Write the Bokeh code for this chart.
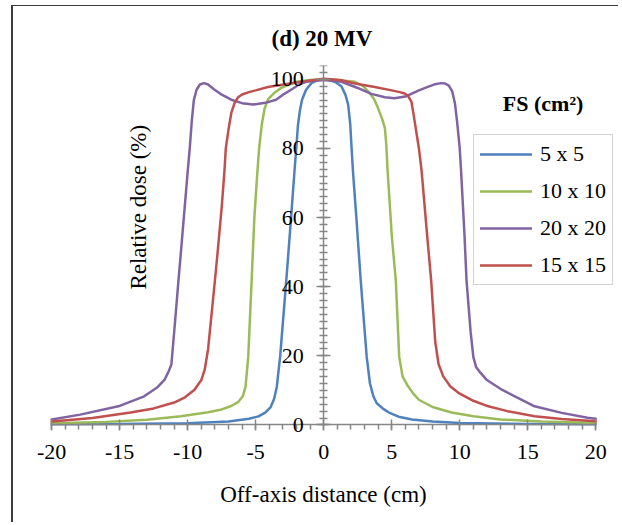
import math
from bokeh.plotting import figure
from bokeh.models import Range1d, SingleIntervalTicker, Legend, LegendItem, Label, PrintfTickFormatter
from bokeh.embed import file_html
from bokeh.resources import INLINE

# ---- data ----
series_names = ["5 x 5", "10 x 10", "20 x 20", "15 x 15"]

x_5 = [-20, -15, -10, -7, -5.5, -4.8, -4.3, -3.9, -3.65, -3.45, -3.2, -2.75, -2.4, -2.15, -2.0, -1.9, -1.75,
       -1.6, -1.3, -0.9, -0.5, 0, 0.5, 0.9, 1.3, 1.6, 1.8, 1.95, 2.05, 2.15, 2.4, 2.72, 3.16, 3.4, 3.65, 3.9,
       4.4, 4.8, 5.5, 6.5, 8, 10, 15, 20]
y_5 = [0.2, 0.3, 0.5, 1.0, 1.8, 2.5, 3.6, 5.2, 7.5, 11, 20, 42, 60, 73.4, 81, 86.5, 91,
       94, 97, 98.9, 99.7, 100, 99.7, 99.1, 98.0, 95.5, 92.6, 87, 80, 73.4, 60, 41.8, 19.7, 12, 8.3, 6.3,
       4.6, 3.6, 2.4, 1.6, 1.0, 0.6, 0.3, 0.2]

x_10 = [-20, -16, -13, -10.5, -8.5, -7.5, -6.8, -6.3, -5.95, -5.75, -5.55, -5.3, -5.1, -4.9, -4.75, -4.55,
        -4.35, -4.1, -3.6, -3.1, -2.0, -1.0, 0, 1.0, 2.3, 2.9, 3.3, 3.7, 4.0, 4.3, 4.5, 4.6, 4.7, 5.0, 5.3, 5.55,
        5.8, 6.2, 6.6, 7.0, 8.0, 9.4, 11, 13, 16, 20]
y_10 = [0.5, 0.9, 1.5, 2.5, 3.7, 4.5, 5.5, 6.6, 8.3, 11, 19.7, 41.8, 60, 72, 80, 87,
        91.5, 94.2, 96.2, 97.6, 99.3, 99.8, 100, 99.8, 99.3, 98, 96.4, 94.3, 91.6, 88.5, 85.9, 81, 73.4, 55, 41.8,
        19.7, 14, 11.2, 9.0, 7.3, 5.2, 3.6, 2.5, 1.6, 1.0, 0.6]

x_20 = [-20, -17.9, -15.1, -13.2, -12.2, -11.7, -11.4, -11.2, -10.95, -10.68, -10.5, -10.0, -9.85, -9.7,
        -9.55, -9.35, -9.1, -8.8, -8.5, -8.1, -7.6, -6.8, -6.0, -5.2, -4.3, -3.5, -2.9, -2.4, -1.8, -1.3, 0,
        1.3, 2.5, 3.5, 4.5, 5.2, 6.0, 7.0, 7.7, 8.2, 8.6, 8.9, 9.2, 9.45, 9.65, 9.8, 10.0, 10.1, 10.35, 10.5,
        10.8, 11.0, 11.2, 11.5, 12.0, 13.1, 15.5, 17.5, 19.4, 20]
y_20 = [1.6, 3.0, 5.4, 8.3, 11, 13.1, 15.5, 17.5, 29, 41.8, 50, 73.4, 80, 88,
        94, 97, 98.5, 98.9, 98.5, 97.2, 95.8, 94.1, 93.1, 92.7, 93.2, 94.1, 95.8, 97, 98.5, 99.3, 99.8,
        99.3, 97.5, 95.8, 94.8, 94.5, 95.0, 96.8, 97.9, 98.6, 98.9, 98.8, 98.2, 96.5, 93, 88, 80, 73.4, 55, 41.8,
        27, 19.7, 16.8, 15.2, 13, 10.2, 5.4, 3.5, 2.1, 1.8]

x_15 = [-20, -17, -14.2, -12.5, -11, -10.2, -9.5, -9.0, -8.75, -8.5, -8.0, -7.8, -7.5, -7.3, -7.2, -7.0,
        -6.8, -6.55, -6.3, -6.0, -5.5, -5.0, -4.1, -2.5, -1.2, 0, 1.2, 2.3, 3.75, 5.0, 5.6, 5.95, 6.2, 6.45,
        6.6, 7.0, 7.2, 7.6, 7.9, 8.2, 8.45, 8.8, 9.3, 9.9, 11, 12.1, 13.5, 15.5, 17.5, 20]
y_15 = [1.0, 2.0, 3.6, 4.8, 6.5, 8.0, 10.2, 13, 16, 22, 41.8, 50, 63, 73.4, 80, 85.5,
        90.2, 93.2, 94.8, 95.6, 96.3, 96.8, 97.8, 98.8, 99.5, 100.2, 99.8, 98.8, 97.8, 96.8, 96.3, 95.9, 95.2, 93.5,
        90, 80, 73.4, 55, 41.8, 24, 17.5, 14, 11.2, 9.3, 7.0, 5.4, 4.0, 2.5, 1.7, 1.1]

colors = ["#4F81BD", "#9BBB59", "#8064A2", "#C0504D"]

x_ticks_interval = 5
y_ticks_interval = 20

FONT = "Liberation Serif"

# The plot area is extended (left, right and bottom) so that the overhanging legend and the
# axis texts are never clipped; the axes themselves are bounded to the data extent.
p = figure(width=607, height=517, output_backend="svg", toolbar_location=None,
           x_range=Range1d(-22, 21.6), y_range=Range1d(-28.5, 104),
           min_border_left=11, min_border_right=3, min_border_top=59, min_border_bottom=0,
           margin=(5, 0, 0, 11),
           styles={"border-left": "2px solid #3c3c3c", "border-top": "1px solid #3c3c3c"})
p.outline_line_color = None
p.grid.visible = False
p.background_fill_color = "white"
p.border_fill_color = "white"

p.title.text = "(d) 20 MV"
p.title.align = "left"
p.title.offset = 247
p.title.text_font = FONT
p.title.text_font_size = "23px"
p.title.text_font_style = "bold"
p.title.text_color = "black"
p.title.standoff = 30

renderers = []
for xs, ys, c in zip([x_5, x_10, x_20, x_15], [y_5, y_10, y_20, y_15], colors):
    r = p.line(xs, ys, line_color=c, line_width=2.5, line_join="round", line_cap="round")
    renderers.append(r)

axis_color = "#868686"
xa = p.xaxis[0]
xa.fixed_location = 0
xa.bounds = (-20, 20)
xa.ticker = SingleIntervalTicker(interval=x_ticks_interval, num_minor_ticks=5)
xa.formatter = PrintfTickFormatter(format="%d")
xa.axis_label = "Off-axis distance (cm)"
xa.axis_label_text_font = FONT
xa.axis_label_text_font_size = "23px"
xa.axis_label_text_font_style = "normal"
xa.axis_label_text_color = "black"
xa.axis_label_standoff = 20
xa.major_label_text_font = FONT
xa.major_label_text_font_size = "22px"
xa.major_label_text_color = "black"
xa.major_label_standoff = 14
xa.axis_line_color = axis_color
xa.axis_line_width = 1.5
xa.major_tick_line_color = axis_color
xa.major_tick_line_width = 1.5
xa.minor_tick_line_color = axis_color
xa.minor_tick_line_width = 1.5
xa.major_tick_in = 5
xa.major_tick_out = 6
xa.minor_tick_in = 0
xa.minor_tick_out = 5

ya = p.yaxis[0]
ya.fixed_location = 0
ya.bounds = (0, 104)
ya.ticker = SingleIntervalTicker(interval=y_ticks_interval, num_minor_ticks=10)
ya.formatter = PrintfTickFormatter(format="%d")
ya.major_label_text_font = FONT
ya.major_label_text_font_size = "22px"
ya.major_label_text_color = "black"
ya.major_label_standoff = 13
ya.axis_line_color = axis_color
ya.axis_line_width = 1.5
ya.major_tick_line_color = axis_color
ya.major_tick_line_width = 1.5
ya.minor_tick_line_color = axis_color
ya.minor_tick_line_width = 1.5
ya.major_tick_in = 7
ya.major_tick_out = 7
ya.minor_tick_in = 4
ya.minor_tick_out = 4

p.add_layout(Label(x=-13.6, y=63.0, text="Relative dose (%)", angle=math.pi / 2,
                   text_align="center", text_baseline="middle",
                   text_font=FONT, text_font_size="23px", text_color="black"))

p.add_layout(Label(x=16.13, y=92.9, text="FS (cm\u00b2)",
                   text_align="center", text_baseline="middle",
                   text_font=FONT, text_font_size="22px", text_font_style="bold",
                   text_color="black"))

legend = Legend(items=[LegendItem(label=n, renderers=[r]) for n, r in zip(series_names, renderers)],
                location=(449, 238), margin=0, padding=6, spacing=11,
                glyph_width=52, glyph_height=24, label_height=24, label_standoff=8,
                label_text_font=FONT, label_text_font_size="22px", label_text_color="black",
                border_line_color="#a6a6a6", border_line_width=1.5,
                background_fill_color="white", background_fill_alpha=1.0)
p.add_layout(legend)

open("out.html", "w").write(file_html(p, INLINE))
